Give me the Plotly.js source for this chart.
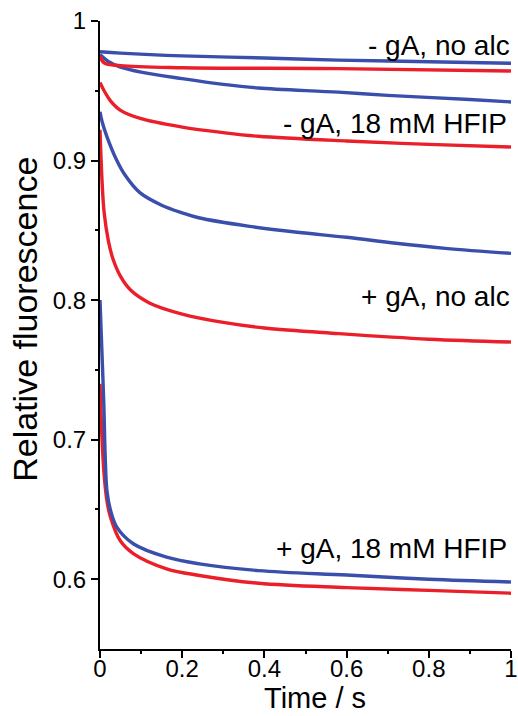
<!DOCTYPE html>
<html>
<head>
<meta charset="utf-8">
<script src="https://cdn.plot.ly/plotly-3.0.1.min.js"></script>
<style>
  html, body { margin: 0; padding: 0; background: #ffffff; }
  #chart { width: 518px; height: 716px; }
</style>
</head>
<body>
<div id="chart"></div>
<script>
// ---- data (time in s, relative fluorescence) ----
const tBlueNoGaNoAlc = [0, 0.05, 0.2, 0.4, 0.58, 0.8, 1.0];
const yBlueNoGaNoAlc = [0.978, 0.977, 0.975, 0.9735, 0.972, 0.9708, 0.9697];

const tRedNoGaNoAlc = [0, 0.01, 0.05, 0.2, 0.58, 1.0];
const yRedNoGaNoAlc = [0.975, 0.970, 0.968, 0.9665, 0.9659, 0.9642];

const tBlueNoGaHfip = [0, 0.02, 0.05, 0.1, 0.2, 0.3, 0.385, 0.58, 0.7, 0.9, 1.0];
const yBlueNoGaHfip = [0.976, 0.971, 0.967, 0.9634, 0.9587, 0.9546, 0.952, 0.949, 0.9467, 0.9437, 0.942];

const tRedNoGaHfip = [0, 0.01, 0.025, 0.05, 0.1, 0.2, 0.3, 0.385, 0.6, 0.8, 1.0];
const yRedNoGaHfip = [0.956, 0.950, 0.943, 0.936, 0.930, 0.924, 0.920, 0.9174, 0.914, 0.9116, 0.9097];

const tBlueGaNoAlc = [0, 0.005, 0.017, 0.041, 0.06, 0.097, 0.15, 0.2, 0.24, 0.36, 0.48, 0.6, 0.72, 0.84, 1.0];
const yBlueGaNoAlc = [0.935, 0.928, 0.917, 0.900, 0.890, 0.877, 0.868, 0.8625, 0.859, 0.853, 0.8486, 0.845, 0.8407, 0.8371, 0.8335];

const tRedGaNoAlc = [0, 0.005, 0.01, 0.02, 0.031, 0.05, 0.075, 0.12, 0.2, 0.3, 0.4, 0.58, 0.8, 1.0];
const yRedGaNoAlc = [0.922, 0.885, 0.863, 0.843, 0.830, 0.817, 0.807, 0.798, 0.790, 0.784, 0.780, 0.776, 0.772, 0.770];

const tBlueGaHfip = [0, 0.005, 0.009, 0.013, 0.017, 0.025, 0.041, 0.081, 0.162, 0.242, 0.386, 0.6, 0.8, 1.0];
const yBlueGaHfip = [0.80, 0.76, 0.728, 0.685, 0.663, 0.650, 0.6373, 0.6254, 0.6158, 0.611, 0.6062, 0.603, 0.600, 0.598];

const tRedGaHfip = [0, 0.005, 0.01, 0.017, 0.025, 0.049, 0.081, 0.162, 0.242, 0.386, 0.6, 0.8, 1.0];
const yRedGaHfip = [0.74, 0.70, 0.675, 0.656, 0.645, 0.6277, 0.6184, 0.6075, 0.6027, 0.5971, 0.594, 0.592, 0.590];

const labelTexts = ['- gA, no alc', '- gA, 18 mM HFIP', '+ gA, no alc', '+ gA, 18 mM HFIP'];
const labelX = [1.0036, 0.9956, 1.0036, 0.9956];   // fraction of the plot width
const labelY = [0.9822, 0.9268, 0.8026, 0.6219];   // fluorescence value

const xTitle = 'Time / s';
const yTitle = 'Relative fluorescence';

const xTickVals = [0, 0.2, 0.4, 0.6, 0.8, 1];
const xTickText = ['0', '0.2', '0.4', '0.6', '0.8', '1'];
const xMinorVals = [0.1, 0.3, 0.5, 0.7, 0.9];
const yTickVals = [0.6, 0.7, 0.8, 0.9, 1];
const yTickText = ['0.6', '0.7', '0.8', '0.9', '1'];
const yMinorVals = [0.65, 0.75, 0.85, 0.95];

// ---- styling ----
const BLUE = '#3a4fab';
const RED = '#ea1f2a';
const FONT = 'Arial, "Liberation Sans", Helvetica, sans-serif';

function trace(x, y, color, name, xa, ya) {
  return {
    x: x, y: y, type: 'scatter', mode: 'lines', name: name,
    xaxis: xa || 'x', yaxis: ya || 'y',
    line: { color: color, width: 3.4, shape: 'spline', smoothing: 1 },
    hoverinfo: 'x+y'
  };
}

const data = [
  trace(tRedGaHfip, yRedGaHfip, RED, '+ gA, 18 mM HFIP'),
  trace(tBlueGaHfip, yBlueGaHfip, BLUE, '+ gA, 18 mM HFIP'),
  trace(tRedGaNoAlc, yRedGaNoAlc, RED, '+ gA, no alc'),
  trace(tBlueGaNoAlc, yBlueGaNoAlc, BLUE, '+ gA, no alc'),
  trace(tRedNoGaHfip, yRedNoGaHfip, RED, '- gA, 18 mM HFIP'),
  trace(tBlueNoGaHfip, yBlueNoGaHfip, BLUE, '- gA, 18 mM HFIP'),
  trace(tRedNoGaNoAlc, yRedNoGaNoAlc, RED, '- gA, no alc'),
  // drawn on the overlay axes (same ranges) so the minor-tick axes are rendered
  trace(tBlueNoGaNoAlc, yBlueNoGaNoAlc, BLUE, '- gA, no alc', 'x2', 'y2')
];

const annotations = labelTexts.map((txt, i) => ({
  text: txt, x: labelX[i], y: labelY[i], xref: 'paper', yref: 'y',
  xanchor: 'right', yanchor: 'middle', showarrow: false,
  font: { family: FONT, size: 28, color: '#000000' }
}));
annotations.push({
  text: xTitle, xref: 'paper', yref: 'paper', x: 0.523, y: -0.1061,
  xanchor: 'center', yanchor: 'bottom', showarrow: false,
  font: { family: FONT, size: 29, color: '#000000' }
});
annotations.push({
  text: yTitle, xref: 'paper', yref: 'paper', x: -0.1812, y: 0.5251,
  xanchor: 'center', yanchor: 'middle', showarrow: false, textangle: -90,
  font: { family: FONT, size: 34, color: '#000000' }
});

const commonAxis = {
  showgrid: false, zeroline: false, automargin: false,
  ticklabeloverflow: 'allow'
};

const layout = {
  width: 518, height: 716,
  margin: { l: 100, r: 7, t: 21, b: 67, pad: 0 },
  paper_bgcolor: '#ffffff', plot_bgcolor: '#ffffff',
  showlegend: false,
  font: { family: FONT, color: '#000000' },
  xaxis: Object.assign({}, commonAxis, {
    range: [0, 1],
    showline: true, linecolor: '#000000', linewidth: 2,
    tickmode: 'array', tickvals: xTickVals, ticktext: xTickText,
    ticks: 'outside', ticklen: 7, tickwidth: 2, tickcolor: '#000000',
    ticklabelstandoff: -10,
    tickfont: { family: FONT, size: 24, color: '#000000' }
  }),
  yaxis: Object.assign({}, commonAxis, {
    range: [0.55, 1],
    showline: true, linecolor: '#000000', linewidth: 2,
    tickmode: 'array', tickvals: yTickVals, ticktext: yTickText,
    ticks: 'outside', ticklen: 7, tickwidth: 2, tickcolor: '#000000',
    tickfont: { family: FONT, size: 24, color: '#000000' }
  }),
  xaxis2: Object.assign({}, commonAxis, {
    range: [0, 1], overlaying: 'x', anchor: 'y', side: 'bottom',
    showline: false, showticklabels: false,
    tickmode: 'array', tickvals: xMinorVals,
    ticks: 'outside', ticklen: 4, tickwidth: 2, tickcolor: '#000000'
  }),
  yaxis2: Object.assign({}, commonAxis, {
    range: [0.55, 1], overlaying: 'y', anchor: 'x', side: 'left',
    showline: false, showticklabels: false,
    tickmode: 'array', tickvals: yMinorVals,
    ticks: 'outside', ticklen: 4, tickwidth: 2, tickcolor: '#000000'
  }),
  annotations: annotations
};

Plotly.newPlot('chart', data, layout, { displayModeBar: false, staticPlot: true });
</script>
</body>
</html>
